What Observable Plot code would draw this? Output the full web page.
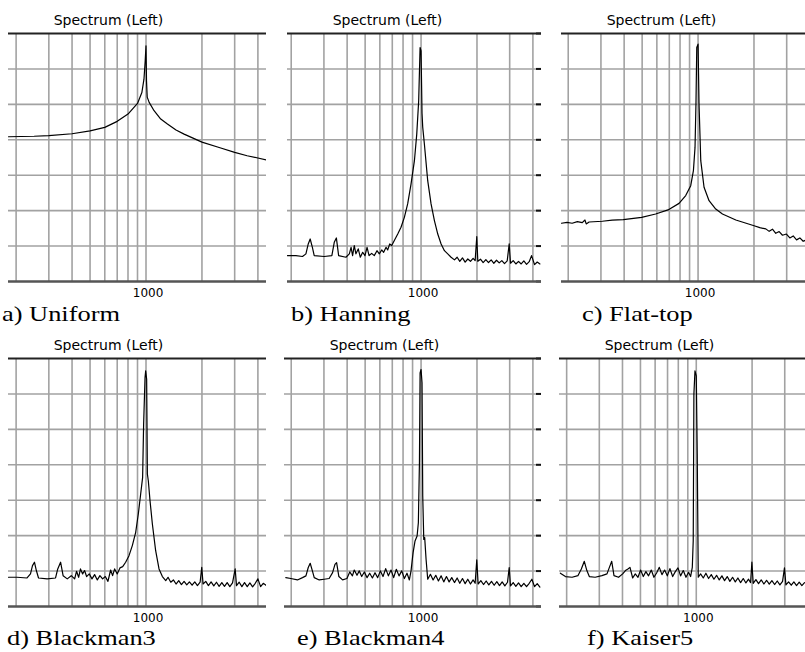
<!DOCTYPE html>
<html><head><meta charset="utf-8">
<script src="https://cdn.jsdelivr.net/npm/d3@7"></script>
<script src="https://cdn.jsdelivr.net/npm/@observablehq/plot@0.6"></script>
<style>
html,body{margin:0;padding:0;background:#fff;}
body{width:805px;height:652px;overflow:hidden;position:relative}
.panel{position:absolute}
.cap{position:absolute;font-family:"Liberation Serif","Times New Roman",serif;font-weight:normal;font-size:22px;line-height:1;white-space:nowrap;transform-origin:0 0;transform:scaleX(1.2);color:#000}
</style></head><body>
<script>
// ---------- data ----------
const captions = ["a) Uniform","b) Hanning","c) Flat-top","d) Blackman3","e) Blackman4","f) Kaiser5"];
const titleText = "Spectrum (Left)";
const freqStart = [182,191,184,182,184,183];
const freqEnd = 4450;
const gridFreqs = [200,300,400,500,600,700,800,900,1000,2000,3000,4000];
const gridLevels = [-120,-100,-80,-60,-40,-20];
const levelDomain = [-140,0];
const tickFreqs = [1000];
const rightTickLevels = [-140,-120,-100,-80,-60,-40,-20,0];

const freqA = [182,250,300,400,500,600,700,800,900,950,975,990,1000,1006,1015,1040,1105,1200,1304,1450,1603,2000,2500,3000,3500,4000,4460];
const levelA = [-58.3,-58.0,-57.6,-56.6,-55.0,-53.0,-49.6,-45.5,-39.5,-33.3,-25.8,-15.4,-7.0,-26.5,-35.9,-38.9,-43.6,-48.3,-51.1,-54.5,-56.8,-61.3,-64.5,-67.1,-69.0,-70.3,-71.4];

const freqB = [191,212,230,240,247,253,260,266,301,331,341,350,360,394,411,420,428,437,446,459,471,485,499,512,525,542,560,579,596,614,629,648,661,678,695,718,749,780,813,847,883,921,948,971,988,1000,1012,1021,1042,1086,1132,1180,1230,1282,1336,1392,1451,1513,1564,1616,1671,1727,1785,1845,1906,1955,1995,2021,2089,2159,2232,2307,2385,2465,2548,2634,2722,2814,2908,2982,3031,3133,3238,3347,3459,3576,3697,3821,3934,4083,4221,4363];
const levelB = [-125.4,-125.4,-125.9,-124.4,-118.8,-116.0,-120.7,-125.4,-125.9,-125.4,-117.9,-115.4,-125.4,-126.3,-124.4,-120.7,-125.4,-119.7,-124.4,-121.6,-126.3,-123.5,-125.4,-120.7,-125.4,-124.1,-125.4,-122.6,-124.4,-122.2,-123.5,-120.7,-122.2,-118.8,-119.7,-116.9,-113.2,-109.4,-103.8,-96.2,-85.0,-71.8,-56.8,-38.0,-7.9,-9.8,-45.0,-53.0,-62.4,-83.1,-96.2,-105.6,-113.2,-118.8,-122.6,-124.4,-126.3,-127.8,-126.3,-128.6,-126.7,-129.1,-127.3,-128.6,-126.9,-128.2,-114.7,-128.6,-127.4,-129.3,-127.6,-129.3,-127.8,-129.7,-128.0,-129.5,-128.2,-129.9,-128.4,-118.8,-129.7,-128.2,-130.1,-128.6,-130.1,-128.4,-130.3,-128.8,-125.4,-130.5,-129.0,-130.1];

const freqC = [184,197,210,224,238,246,250,259,305,345,396,497,591,689,790,858,913,944,963,975,984,1000,1012,1034,1077,1146,1245,1353,1597,2003,2150,2316,2414,2515,2620,2733,2847,2990,3120,3252,3390,3532,3680,3835];
const levelC = [-107.1,-106.6,-107.1,-106.2,-106.8,-105.3,-107.5,-106.4,-106.0,-105.3,-105.1,-103.8,-101.9,-99.6,-95.9,-91.5,-85.9,-77.4,-64.3,-38.0,-7.9,-6.0,-39.8,-71.8,-86.8,-94.4,-99.1,-101.9,-105.3,-108.5,-109.6,-110.3,-111.7,-110.5,-112.8,-111.8,-113.9,-113.2,-115.4,-114.3,-116.5,-115.4,-117.3,-116.5];

const freqD = [182,202,229,239,245,251,257,264,294,326,335,347,358,377,396,413,423,434,444,456,467,479,495,512,529,547,565,584,604,624,645,661,678,700,724,749,777,810,844,880,909,936,959,971,988,996,1008,1017,1029,1051,1082,1127,1175,1225,1277,1314,1359,1404,1451,1500,1551,1603,1657,1712,1770,1830,1891,1955,1995,2028,2097,2167,2240,2316,2394,2475,2558,2644,2733,2825,2921,3019,3069,3173,3280,3390,3505,3623,3745,3871,4001,4136,4275,4457];
const levelD = [-123.5,-123.5,-123.9,-121.6,-116.9,-115.0,-119.7,-123.9,-124.4,-123.9,-118.8,-115.0,-122.6,-124.4,-122.6,-124.4,-120.1,-123.5,-118.8,-121.6,-119.7,-123.1,-121.6,-124.4,-122.0,-125.0,-122.6,-124.4,-123.1,-125.8,-119.4,-122.6,-118.8,-121.6,-118.2,-117.5,-115.0,-111.3,-105.6,-98.1,-87.8,-76.5,-67.1,-37.0,-10.7,-7.0,-11.7,-65.2,-69.0,-80.3,-93.4,-108.5,-118.8,-123.1,-125.4,-123.5,-126.3,-125.0,-127.3,-125.4,-127.6,-125.8,-127.8,-126.1,-128.0,-126.1,-128.2,-126.3,-117.9,-127.3,-125.8,-128.2,-126.1,-128.4,-126.3,-128.6,-126.5,-128.6,-126.5,-128.8,-126.7,-118.8,-128.2,-126.3,-128.8,-126.5,-128.8,-126.7,-128.9,-126.9,-124.4,-128.8,-126.9,-128.2];

const freqE = [187,199,216,230,240,247,253,260,266,283,301,320,334,344,351,361,378,399,413,427,437,452,465,479,495,512,529,547,565,584,604,624,645,667,689,712,736,761,787,813,840,865,883,906,928,952,967,980,988,1000,1012,1021,1034,1046,1064,1086,1123,1161,1200,1240,1282,1325,1370,1416,1463,1513,1564,1616,1671,1727,1785,1845,1906,1955,1995,2029,2098,2168,2241,2316,2394,2475,2558,2644,2733,2825,2920,2982,3031,3133,3238,3347,3459,3576,3697,3821,3950,4083,4221,4363];
const levelE = [-123.7,-124.2,-125.0,-123.7,-122.7,-118.0,-115.6,-119.9,-123.7,-125.0,-124.6,-124.2,-120.9,-116.2,-115.2,-123.1,-125.0,-124.2,-120.5,-122.7,-119.4,-122.4,-119.9,-123.1,-120.5,-123.7,-121.2,-123.9,-120.9,-123.7,-119.9,-123.1,-118.6,-122.7,-119.4,-123.7,-119.0,-122.7,-119.9,-124.2,-121.2,-125.0,-119.9,-109.6,-103.0,-100.2,-92.7,-58.8,-8.1,-6.2,-13.7,-77.6,-102.1,-101.1,-113.3,-124.6,-121.8,-125.0,-122.4,-125.6,-122.7,-126.1,-123.1,-126.1,-123.7,-126.5,-123.9,-126.9,-124.2,-127.1,-124.6,-127.3,-125.0,-126.9,-113.7,-127.3,-125.4,-127.6,-125.6,-127.8,-125.8,-128.0,-126.0,-128.2,-126.1,-128.4,-126.3,-118.0,-128.4,-126.5,-128.6,-126.7,-128.8,-126.9,-128.8,-126.9,-124.6,-128.8,-127.1,-129.0];

const freqF = [185,197,214,230,240,249,257,265,285,310,330,340,350,360,381,401,415,428,439,454,469,485,501,518,535,553,572,591,611,632,653,675,698,721,746,771,797,823,851,880,909,932,952,963,971,984,1000,1012,1025,1055,1091,1127,1165,1205,1245,1287,1330,1375,1421,1469,1518,1570,1623,1677,1734,1792,1852,1914,1963,1995,2028,2097,2167,2240,2316,2394,2475,2558,2644,2733,2825,2920,2990,3044,3146,3252,3361,3473,3590,3711,3835];
const levelF = [-121.2,-123.1,-123.5,-122.6,-118.8,-114.5,-119.7,-123.1,-123.5,-122.6,-121.6,-117.9,-114.5,-122.6,-123.5,-121.6,-119.7,-118.8,-117.9,-123.9,-121.6,-123.5,-119.4,-123.1,-120.3,-122.7,-119.4,-123.5,-121.1,-117.9,-122.0,-119.4,-122.7,-118.6,-123.1,-120.3,-118.2,-122.7,-119.7,-123.5,-120.7,-123.1,-117.9,-102.8,-20.1,-7.0,-9.8,-53.9,-123.5,-121.6,-123.9,-121.2,-124.2,-122.0,-124.6,-122.4,-125.0,-122.7,-125.4,-123.1,-125.8,-123.5,-126.1,-123.9,-126.5,-124.2,-126.7,-124.6,-126.5,-115.0,-126.9,-124.8,-127.1,-125.0,-127.3,-125.2,-127.4,-125.4,-127.6,-125.6,-127.8,-125.8,-118.2,-127.8,-126.1,-128.0,-126.1,-128.2,-126.3,-128.2,-126.5];

const panelFreqs = [freqA,freqB,freqC,freqD,freqE,freqF];
const panelLevels = [levelA,levelB,levelC,levelD,levelE,levelF];

// ---------- layout ----------
const pxPerDecade = 185.5, frameH = 248, mT = 30, mB = 22;
const layout = [
  {left:8, top:33, capLeft:2, capTop:303, rightTicks:false},
  {left:287, top:33, capLeft:291, capTop:303, rightTicks:true},
  {left:561, top:33, capLeft:582, capTop:303, rightTicks:false},
  {left:8, top:358, capLeft:7, capTop:627, rightTicks:false},
  {left:284, top:358, capLeft:297, capTop:627, rightTicks:true},
  {left:559, top:358, capLeft:587, capTop:627, rightTicks:false}
];

layout.forEach((L, i) => {
  const data = panelFreqs[i].map((f, j) => ({f, level: panelLevels[i][j]}));
  const w = Math.round(pxPerDecade * Math.log10(freqEnd / freqStart[i]));
  const svg = Plot.plot({
    width: w, height: frameH + mT + mB,
    marginLeft: 0, marginRight: 0, marginTop: mT, marginBottom: mB,
    style: {background: "transparent", fontFamily: "DejaVu Sans", fontSize: "12px", maxWidth: "none", color: "#000"},
    x: {type: "log", domain: [freqStart[i], freqEnd], axis: null, label: null},
    y: {domain: levelDomain, axis: null, label: null},
    marks: [
      Plot.ruleY(gridLevels, {stroke: "#a2a2a2", strokeWidth: 1.6}),
      Plot.ruleX(gridFreqs, {stroke: "#a2a2a2", strokeWidth: 1.6}),
      L.rightTicks ? Plot.ruleY(rightTickLevels, {insetLeft: w - 5, stroke: "#111", strokeWidth: 2}) : null,
      Plot.ruleY([levelDomain[1]], {stroke: "#222", strokeWidth: 2}),
      Plot.ruleY([levelDomain[0]], {stroke: "#555", strokeWidth: 2.5}),
      Plot.line(data, {x: "f", y: "level", stroke: "#000", strokeWidth: 1.2}),
      Plot.axisX({ticks: tickFreqs, tickSize: 0, tickPadding: 7, dx: 2, label: null, tickFormat: d => String(d), fill: "#000"}),
      Plot.text([titleText], {frameAnchor: "top-left", dx: 100, dy: -12.5, textAnchor: "middle", lineAnchor: "middle", fontSize: 14, fill: "#000"})
    ]
  });
  const div = document.createElement("div");
  div.className = "panel";
  div.style.left = L.left + "px";
  div.style.top = (L.top - mT) + "px";
  div.style.width = w + "px";
  div.appendChild(svg);
  document.body.appendChild(div);

  const cap = document.createElement("div");
  cap.className = "cap";
  cap.style.left = L.capLeft + "px";
  cap.style.top = L.capTop + "px";
  cap.textContent = captions[i];
  document.body.appendChild(cap);
});
</script>
</body></html>
